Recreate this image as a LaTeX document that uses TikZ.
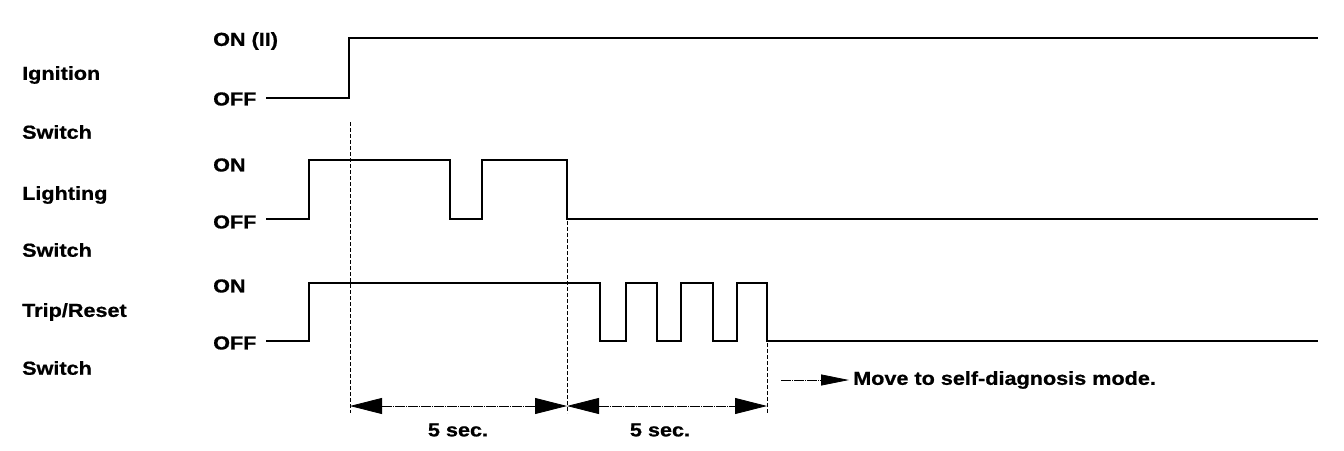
\documentclass[tikz,border=0pt]{standalone}
\usepackage{fontspec}
\setmainfont{Liberation Sans}[FakeStretch=1.15,BoldFeatures={FakeStretch=1.15,FakeBold=0.8}]
\usetikzlibrary{arrows.meta}
\begin{document}
\begin{tikzpicture}[x=1pt,y=-1pt,
  lbl/.style={anchor=west,inner sep=0pt,font=\fontsize{18.8}{22}\selectfont\bfseries},
  lvl/.style={anchor=west,inner sep=0pt,font=\fontsize{18.8}{22}\selectfont\bfseries},
  sig/.style={line width=2.6pt,line join=miter},
  guide/.style={line width=0.8pt,dash pattern=on 4pt off 2pt},
  dim/.style={line width=0.8pt,dash pattern=on 10pt off 1pt on 1pt off 1pt,{Triangle[length=32pt,width=16pt]}-{Triangle[length=32pt,width=16pt]}},
  note/.style={line width=0.8pt,dash pattern=on 10pt off 1pt on 1pt off 1pt,-{Triangle[length=28pt,width=11pt]}}]
\useasboundingbox (0,0) rectangle (1344,450);
% left labels
\node[lbl] (ig1) at (22,75) {Ignition};
\node[lbl] (ig2) at (22,132) {Switch};
\node[lbl] (li1) at (22,195) {Lighting};
\node[lbl] (li2) at (22,250) {Switch};
\node[lbl] (tr1) at (22,312) {Trip/Reset};
\node[lbl] (tr2) at (22,368) {Switch};
% level labels
\node[lvl] (igon) at (213,41) {ON (II)};
\node[lvl] (igoff) at (213,99) {OFF};
\node[lvl] (lion) at (213,165) {ON};
\node[lvl] (lioff) at (213,222) {OFF};
\node[lvl] (tron) at (213,286) {ON};
\node[lvl] (troff) at (213,343) {OFF};
% signals
\draw[sig] (266,98) -- (349,98) -- (349,38) -- (1318,38);
\draw[sig] (266,219) -- (309,219) -- (309,160) -- (450,160) -- (450,219) -- (482,219) -- (482,160) -- (567,160) -- (567,219) -- (1318,219);
\draw[sig] (266,341) -- (309,341) -- (309,283) -- (600,283) -- (600,341) -- (626,341) -- (626,283) -- (657,283) -- (657,341) -- (681,341) -- (681,283) -- (713,283) -- (713,341) -- (737,341) -- (737,283) -- (767,283) -- (767,341) -- (1318,341);
% guides
\coordinate (g1t) at (350,122);
\coordinate (g1b) at (350,413);
\coordinate (g2t) at (567,221);
\coordinate (g2b) at (567,413);
\coordinate (g3t) at (767,343);
\coordinate (g3b) at (767,413);
\draw[guide] (g1t) -- (g1b);
\draw[guide] (g2t) -- (g2b);
\draw[guide] (g3t) -- (g3b);
% dimensions
\coordinate (d1) at (350,406);
\coordinate (d2) at (567,406);
\coordinate (d3) at (767,406);
\draw[dim] (d1) -- (d2);
\draw[dim] (d2) -- (d3);
\node[lvl,anchor=center] (s1) at (458,430) {5 sec.};
\node[lvl,anchor=center] (s2) at (660,430) {5 sec.};
% note
\coordinate (n0) at (781,380);
\node[lvl] (mv) at (853,380) {Move to self-diagnosis mode.};
\draw[note] (n0) -- ([xshift=-4pt]mv.west);
\end{tikzpicture}
\end{document}
